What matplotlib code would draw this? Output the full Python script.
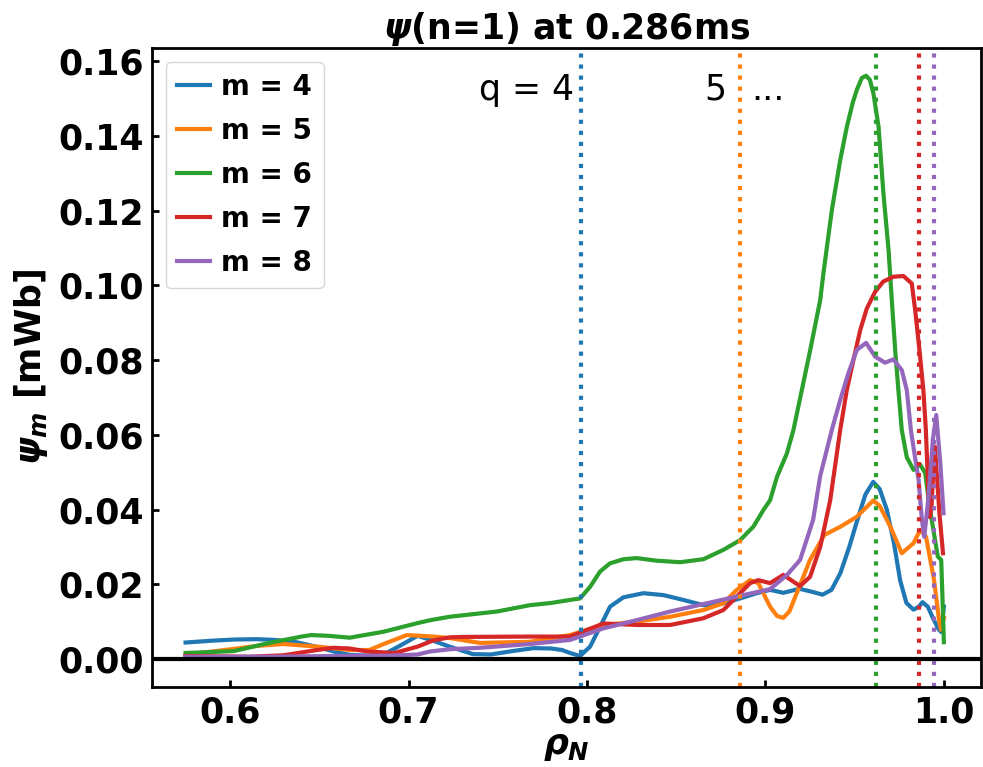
import matplotlib
matplotlib.use("Agg")
import matplotlib.pyplot as plt

plt.rcParams['font.family'] = ['DejaVu Sans']
plt.rcParams['font.weight'] = 'bold'
plt.rcParams['mathtext.fontset'] = 'custom'
plt.rcParams['mathtext.rm'] = 'DejaVu Sans:bold'
plt.rcParams['mathtext.it'] = 'DejaVu Sans:italic:bold'
plt.rcParams['mathtext.bf'] = 'DejaVu Sans:bold'

# poloidal harmonics of psi(n=1) versus normalised radius
rho_m4 = [0.575, 0.590, 0.602, 0.615, 0.625, 0.637, 0.649, 0.658, 0.667, 0.677,
          0.686, 0.695, 0.705, 0.713, 0.723, 0.736, 0.746, 0.758, 0.770, 0.780,
          0.786, 0.7905, 0.7961, 0.8017, 0.8073, 0.8129, 0.8204, 0.8316, 0.8428, 0.8540,
          0.8652, 0.8764, 0.8858, 0.895, 0.9026, 0.910, 0.919, 0.926, 0.932, 0.937,
          0.942, 0.947, 0.951, 0.956, 0.9604, 0.964, 0.968, 0.972, 0.9755, 0.979,
          0.983, 0.986, 0.988, 0.991, 0.994, 0.997, 0.9985, 1.0]
psi_m4 = [0.0044, 0.0049, 0.0052, 0.0053, 0.0051, 0.0045, 0.0032, 0.0020, 0.0011, 0.0009,
          0.0012, 0.0035, 0.0062, 0.0050, 0.0033, 0.0013, 0.0012, 0.0021, 0.0029, 0.0028,
          0.0024, 0.0016, 0.0008, 0.0033, 0.0086, 0.0140, 0.0165, 0.0176, 0.0171, 0.0158,
          0.0144, 0.0149, 0.0162, 0.0176, 0.0185, 0.0177, 0.0188, 0.0180, 0.0172, 0.0185,
          0.0230, 0.0300, 0.0364, 0.0440, 0.0474, 0.0455, 0.0400, 0.0310, 0.0210, 0.0150,
          0.0132, 0.0140, 0.0152, 0.0140, 0.0108, 0.0080, 0.0072, 0.0140]

rho_m5 = [0.575, 0.590, 0.602, 0.615, 0.630, 0.649, 0.667, 0.678, 0.686, 0.699,
          0.714, 0.723, 0.740, 0.768, 0.7905, 0.8092, 0.8279, 0.8466, 0.8652, 0.8764,
          0.8839, 0.8914, 0.896, 0.9026, 0.9065, 0.910, 0.9135, 0.916, 0.925, 0.933,
          0.942, 0.951, 0.9604, 0.964, 0.970, 0.9764, 0.983, 0.9867, 0.990, 0.9945,
          0.9973, 0.9983, 1.0]
psi_m5 = [0.0010, 0.0020, 0.0027, 0.0035, 0.0040, 0.0033, 0.0024, 0.0024, 0.0040, 0.0064,
          0.0060, 0.0056, 0.0043, 0.0046, 0.0064, 0.0091, 0.0100, 0.0113, 0.0131, 0.0149,
          0.0185, 0.0211, 0.0203, 0.0140, 0.0115, 0.0110, 0.0128, 0.0158, 0.0265, 0.0332,
          0.0354, 0.0380, 0.0424, 0.0410, 0.0354, 0.0283, 0.0310, 0.0345, 0.0327, 0.0211,
          0.0104, 0.0078, 0.0110]

rho_m6 = [0.575, 0.602, 0.621, 0.640, 0.6455, 0.655, 0.667, 0.686, 0.705, 0.7123,
          0.723, 0.7495, 0.768, 0.780, 0.7905, 0.7961, 0.8017, 0.8073, 0.8129, 0.8204,
          0.8279, 0.8391, 0.8522, 0.8652, 0.8764, 0.8858, 0.8932, 0.8989, 0.9026, 0.9065,
          0.912, 0.9157, 0.9204, 0.9251, 0.9307, 0.9325, 0.9372, 0.9419, 0.9456, 0.9490,
          0.9512, 0.9540, 0.9564, 0.9585, 0.9605, 0.9634, 0.9661, 0.9690, 0.9708, 0.9727,
          0.9745, 0.9764, 0.9792, 0.983, 0.9867, 0.9895, 0.992, 0.9947, 0.9966, 0.9985,
          0.9995, 1.0]
psi_m6 = [0.0016, 0.0021, 0.0042, 0.0060, 0.0064, 0.0062, 0.0057, 0.0073, 0.0096, 0.0104,
          0.0113, 0.0127, 0.0144, 0.0150, 0.0158, 0.0162, 0.0193, 0.0234, 0.0256, 0.0267,
          0.0270, 0.0263, 0.0259, 0.0267, 0.0292, 0.0318, 0.0354, 0.0399, 0.0425, 0.0488,
          0.0550, 0.0613, 0.0720, 0.0827, 0.0961, 0.1033, 0.1201, 0.1335, 0.1424, 0.1490,
          0.1523, 0.1555, 0.1561, 0.1550, 0.1514, 0.1424, 0.1247, 0.1094, 0.0961, 0.0827,
          0.0720, 0.0613, 0.0540, 0.0506, 0.0520, 0.0498, 0.0408, 0.0328, 0.0274, 0.0265,
          0.0122, 0.0045]

rho_m7 = [0.575, 0.611, 0.630, 0.6487, 0.658, 0.667, 0.677, 0.692, 0.705, 0.714,
          0.7232, 0.7305, 0.768, 0.7905, 0.8092, 0.8279, 0.8466, 0.8652, 0.8764, 0.8839,
          0.8914, 0.896, 0.9026, 0.910, 0.9194, 0.925, 0.9307, 0.9363, 0.9419, 0.9456,
          0.9493, 0.9531, 0.9568, 0.9615, 0.966, 0.9717, 0.9773, 0.9820, 0.9839, 0.9863,
          0.9885, 0.9899, 0.9910, 0.9920, 0.9930, 0.9940, 0.9950, 0.9975, 0.9995]
psi_m7 = [0.0008, 0.0006, 0.0010, 0.0024, 0.0030, 0.0028, 0.0020, 0.0016, 0.0033, 0.0050,
          0.0058, 0.0059, 0.0060, 0.0060, 0.0095, 0.0091, 0.0091, 0.0109, 0.0131, 0.0167,
          0.0203, 0.0211, 0.0203, 0.0225, 0.0195, 0.0220, 0.0300, 0.0425, 0.0613, 0.0720,
          0.0800, 0.0880, 0.0938, 0.0983, 0.1010, 0.1023, 0.1025, 0.1005, 0.0934, 0.0827,
          0.0720, 0.0613, 0.0480, 0.0380, 0.0400, 0.0500, 0.0568, 0.0390, 0.0283]

rho_m8 = [0.575, 0.620, 0.660, 0.690, 0.705, 0.712, 0.723, 0.740, 0.768, 0.7905,
          0.8092, 0.8279, 0.8466, 0.8652, 0.8839, 0.9026, 0.9121, 0.9194, 0.9267, 0.9307,
          0.9344, 0.9372, 0.9419, 0.9465, 0.9512, 0.9564, 0.9615, 0.967, 0.9717, 0.9764,
          0.9792, 0.9815, 0.9835, 0.9858, 0.9877, 0.9890, 0.9914, 0.9938, 0.9957, 0.9980,
          0.9998]
psi_m8 = [0.0006, 0.0006, 0.0008, 0.0009, 0.0012, 0.0020, 0.0026, 0.0030, 0.0040, 0.0051,
          0.0082, 0.0104, 0.0127, 0.0147, 0.0167, 0.0187, 0.0225, 0.0265, 0.0372, 0.0490,
          0.0560, 0.0613, 0.0693, 0.0765, 0.0827, 0.0846, 0.0809, 0.0793, 0.0802, 0.0773,
          0.0720, 0.0613, 0.0550, 0.0480, 0.0372, 0.0327, 0.0434, 0.0586, 0.0653, 0.0524,
          0.0390]

m_numbers = [4, 5, 6, 7, 8]
# rational surface locations q = m/n
q_surfaces = [0.7966, 0.8860, 0.9620, 0.9860, 0.9946]
colors = ['#1f77b4', '#ff7f0e', '#2ca02c', '#d62728', '#9467bd']

rhos = [rho_m4, rho_m5, rho_m6, rho_m7, rho_m8]
psis = [psi_m4, psi_m5, psi_m6, psi_m7, psi_m8]

fig = plt.figure(figsize=(9.83, 7.67), dpi=100)
ax = fig.add_axes([152 / 983, 1 - 687 / 767, (981 - 152) / 983, (687 - 47.7) / 767])

for m, r, p, c in zip(m_numbers, rhos, psis, colors):
    ax.plot(r, p, color=c, lw=3, label=f'm = {m}', solid_joinstyle='round')

for qs, c in zip(q_surfaces, colors):
    ax.axvline(qs, color=c, ls=':', lw=3)

ax.axhline(0, color='black', lw=3)

ax.text(q_surfaces[0] - 0.004, 0.1523, 'q = 4', ha='right', va='center',
        fontsize=25, fontweight='normal')
ax.text(q_surfaces[1] - 0.0078, 0.1523, '5', ha='right', va='center',
        fontsize=25, fontweight='normal')
ax.text(q_surfaces[1] + 0.006, 0.1523, '...', ha='left', va='center',
        fontsize=25, fontweight='normal')

ax.set_xlim(0.5562, 1.0208)
ax.set_ylim(-0.0075, 0.1636)
ax.set_xticks([0.6, 0.7, 0.8, 0.9, 1.0])
ax.set_yticks([0.0, 0.02, 0.04, 0.06, 0.08, 0.10, 0.12, 0.14, 0.16])
ax.set_yticklabels(['0.00', '0.02', '0.04', '0.06', '0.08', '0.10', '0.12', '0.14', '0.16'])
ax.set_xticklabels(['0.6', '0.7', '0.8', '0.9', '1.0'])
ax.tick_params(direction='in', length=5, width=2, labelsize=25)
ax.tick_params(axis='y', pad=6)
ax.tick_params(axis='x', pad=6)
for lbl in ax.get_xticklabels() + ax.get_yticklabels():
    lbl.set_fontweight('bold')
for sp in ax.spines.values():
    sp.set_linewidth(2)

ax.set_title(r'$\psi$(n=1) at 0.286ms', fontsize=25, fontweight='bold', pad=5)
ax.set_ylabel(r'$\psi_m$ [mWb]', fontsize=25, fontweight='bold', labelpad=6)
ax.set_xlabel(r'$\rho_N$', fontsize=25, fontweight='bold', labelpad=0)

leg = ax.legend(loc='upper left', fontsize=20, handlelength=1.2, handletextpad=0.4,
                labelspacing=0.58, borderpad=0.4)
for t in leg.get_texts():
    t.set_fontweight('bold')

fig.savefig('out.png', dpi=100)
